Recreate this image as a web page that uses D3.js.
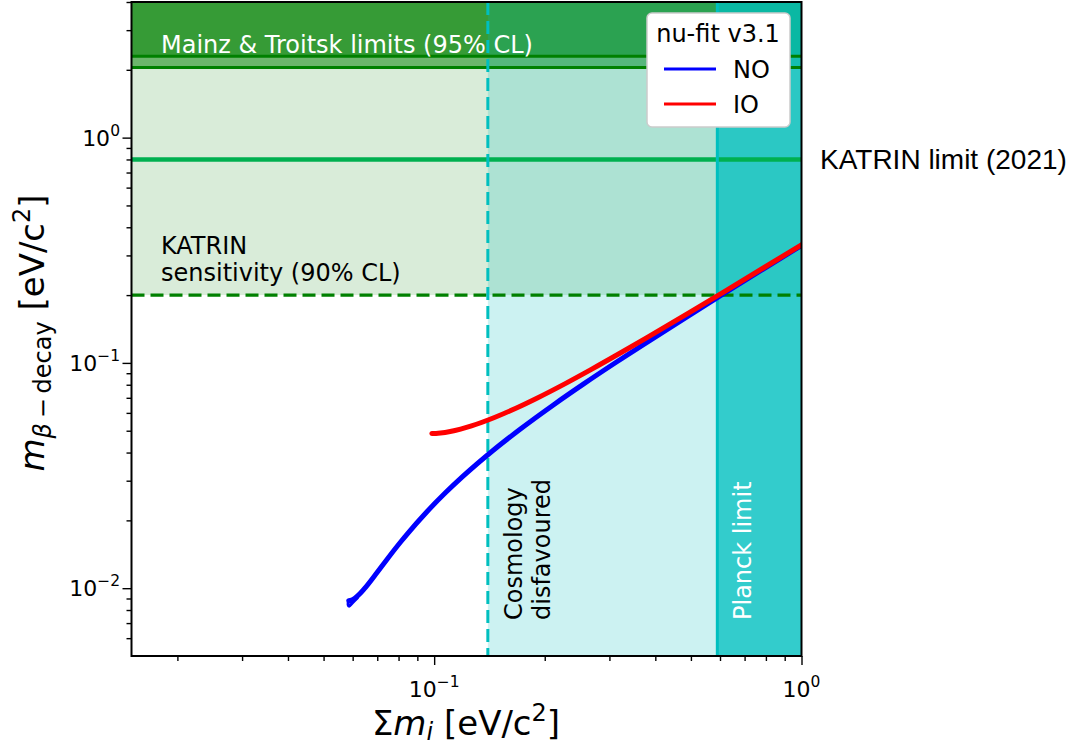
<!DOCTYPE html>
<html><head><meta charset="utf-8">
<script src="https://cdn.jsdelivr.net/npm/d3@7"></script>
<style>body{margin:0;background:#fff}</style>
</head><body>
<svg id="chart" width="1068" height="746" xmlns="http://www.w3.org/2000/svg"></svg>
<script>
// Sum of neutrino masses vs effective beta-decay mass (both eV/c^2)
const noSum   = [0.05854, 0.05961, 0.06081, 0.06285, 0.06514, 0.06941, 0.07412, 0.08124, 0.08444, 0.09557, 0.10729, 0.11947, 0.14489, 0.1714, 0.21254, 0.25477, 0.31215, 0.37029, 0.48784, 0.60632, 0.78489, 0.99387, 1.0088];
const noMbeta = [0.008794, 0.00885, 0.009018, 0.009465, 0.010116, 0.011558, 0.013317, 0.016112, 0.017388, 0.021848, 0.026502, 0.031262, 0.04096, 0.050767, 0.065592, 0.080482, 0.100386, 0.12032, 0.16024, 0.20019, 0.26015, 0.33012, 0.33512];
// lower edge of the NO band near the lightest-mass end
const noLowSum   = [0.05854, 0.05830, 0.05870, 0.05990, 0.06180];
const noLowMbeta = [0.008794, 0.00845, 0.00832, 0.00860, 0.00905];
const ioSum   = [0.09855, 0.10117, 0.10405, 0.11056, 0.11801, 0.12636, 0.14538, 0.16693, 0.1904, 0.22813, 0.26791, 0.32296, 0.37945, 0.49483, 0.61196, 0.78926, 0.99731, 1.01221];
const ioMbeta = [0.04858, 0.048641, 0.048834, 0.049595, 0.05084, 0.052533, 0.057094, 0.062926, 0.069712, 0.081147, 0.093594, 0.111174, 0.12946, 0.167212, 0.20581, 0.264499, 0.33356, 0.33851];

// Experimental and cosmological bounds
const troitskLimit = 2.05;
const mainzLimit = 2.3;
const katrinLimit = 0.8;
const katrinSensitivity = 0.2;
const cosmologyBound = 0.14;
const planckLimit = 0.59;

// Tick values
const xMajor = [0.1, 1];
const xMinor = [0.02, 0.03, 0.04, 0.05, 0.06, 0.07, 0.08, 0.09, 0.2, 0.3, 0.4, 0.5, 0.6, 0.7, 0.8, 0.9];
const xTickExp = ["−1", "0"];
const yMajor = [0.01, 0.1, 1];
const yMinor = [0.006, 0.007, 0.008, 0.009, 0.02, 0.03, 0.04, 0.05, 0.06, 0.07, 0.08, 0.09, 0.2, 0.3, 0.4, 0.5, 0.6, 0.7, 0.8, 0.9, 2, 3, 4];
const yTickExp = ["−2", "−1", "0"];

const legendTitle = "nu-fit v3.1";
const seriesNames = ["NO", "IO"];
const seriesColors = ["#0000ff", "#ff0000"];

const FONT = "DejaVu Sans, sans-serif";
const TXT = 24;
const svg = d3.select("#chart");
const L = 131.5, R = 801.5, T = 2, B = 656;
const x = d3.scaleLog().domain([0.015, 1]).range([L, R]);
const y = d3.scaleLog().domain([0.005, 4]).range([B, T]);
const [xmin, xmax] = x.domain();
const [ymin, ymax] = y.domain();

svg.append("defs").append("clipPath").attr("id", "plot")
  .append("rect").attr("x", L).attr("y", T).attr("width", R - L).attr("height", B - T);
const plot = svg.append("g").attr("clip-path", "url(#plot)");

// Shaded bands
function hspan(y0, y1, color, op) {
  plot.append("rect").attr("x", L).attr("width", R - L)
    .attr("y", y(y1)).attr("height", y(y0) - y(y1))
    .attr("fill", color).attr("fill-opacity", op);
}
function vspan(x0, x1, color, op) {
  plot.append("rect").attr("y", T).attr("height", B - T)
    .attr("x", x(x0)).attr("width", x(x1) - x(x0))
    .attr("fill", color).attr("fill-opacity", op);
}
hspan(katrinSensitivity, ymax, "#008000", 0.15);
hspan(troitskLimit, ymax, "#008000", 0.5);
hspan(mainzLimit, ymax, "#008000", 0.5);
vspan(cosmologyBound, xmax, "#00bfbf", 0.2);
vspan(planckLimit, xmax, "#00bfbf", 0.75);

// Bound lines
function hline(v, color, w, dash) {
  const l = plot.append("line").attr("x1", L).attr("x2", R).attr("y1", y(v)).attr("y2", y(v))
    .attr("stroke", color).attr("stroke-width", w);
  if (dash) l.attr("stroke-dasharray", dash);
}
function vline(v, color, w, dash) {
  const l = plot.append("line").attr("y1", T).attr("y2", B).attr("x1", x(v)).attr("x2", x(v))
    .attr("stroke", color).attr("stroke-width", w);
  if (dash) l.attr("stroke-dasharray", dash);
}
hline(troitskLimit, "#008000", 3);
hline(mainzLimit, "#008000", 3);
hline(katrinLimit, "#00b050", 4.5);
hline(katrinSensitivity, "#008000", 3.2, "13,6");
vline(planckLimit, "#00bfbf", 3);

// Labels inside the plot
plot.append("text").attr("x", 161).attr("y", 53).attr("fill", "#fff")
  .attr("font-family", FONT).attr("font-size", TXT).text("Mainz & Troitsk limits (95% CL)");
vline(cosmologyBound, "#00bfbf", 3, "13,6");
const ks = plot.append("text").attr("font-family", FONT).attr("font-size", TXT).attr("fill", "#000");
ks.append("tspan").attr("x", 161).attr("y", 254).text("KATRIN");
ks.append("tspan").attr("x", 161).attr("y", 280.5).text("sensitivity (90% CL)");

plot.append("text").attr("transform", "translate(521.5,620) rotate(-90)")
  .attr("font-family", FONT).attr("font-size", TXT).attr("fill", "#000").text("Cosmology");
plot.append("text").attr("transform", "translate(549.5,620) rotate(-90)")
  .attr("font-family", FONT).attr("font-size", TXT).attr("fill", "#000").text("disfavoured");
plot.append("text").attr("transform", "translate(751,620) rotate(-90)")
  .attr("font-family", FONT).attr("font-size", TXT).attr("fill", "#fff").text("Planck limit");

// Mass curves
const line = d3.line().x(d => x(d[0])).y(d => y(d[1])).curve(d3.curveMonotoneX);
const loop = d3.line().x(d => x(d[0])).y(d => y(d[1])).curve(d3.curveCatmullRom);
plot.append("path").attr("d", loop(d3.zip(noLowSum, noLowMbeta))).attr("fill", "none")
  .attr("stroke", seriesColors[0]).attr("stroke-width", 3)
  .attr("stroke-linecap", "round").attr("stroke-linejoin", "round");
const series = [d3.zip(noSum, noMbeta), d3.zip(ioSum, ioMbeta)];
series.forEach((pts, i) => {
  plot.append("path").attr("d", line(pts)).attr("fill", "none")
    .attr("stroke", seriesColors[i]).attr("stroke-width", 5)
    .attr("stroke-linecap", "round").attr("stroke-linejoin", "round");
});

// Axes
const axX = svg.append("g").attr("transform", `translate(0,${B})`);
axX.call(d3.axisBottom(x).tickValues(xMajor).tickSize(9).tickFormat(""));
const axXm = svg.append("g").attr("transform", `translate(0,${B})`);
axXm.call(d3.axisBottom(x).tickValues(xMinor).tickSize(5).tickFormat(""));
const axY = svg.append("g").attr("transform", `translate(${L},0)`);
axY.call(d3.axisLeft(y).tickValues(yMajor).tickSize(9).tickFormat(""));
const axYm = svg.append("g").attr("transform", `translate(${L},0)`);
axYm.call(d3.axisLeft(y).tickValues(yMinor).tickSize(5).tickFormat(""));
[axX, axXm, axY, axYm].forEach(g => {
  g.selectAll(".domain").remove();
  g.selectAll(".tick line").attr("stroke", "#000").attr("stroke-width", 1.4);
});
// frame
svg.append("rect").attr("x", L).attr("y", T).attr("width", R - L).attr("height", B - T)
  .attr("fill", "none").attr("stroke", "#000").attr("stroke-width", 2);

// tick labels with exponents
xMajor.forEach((v, i) => {
  const t = svg.append("text").attr("x", x(v)).attr("y", 697).attr("text-anchor", "middle")
    .attr("font-family", FONT).attr("font-size", 22).attr("fill", "#000");
  t.append("tspan").text("10");
  t.append("tspan").attr("font-size", 15.5).attr("dy", -10).text(xTickExp[i]);
});
yMajor.forEach((v, i) => {
  const t = svg.append("text").attr("x", 120).attr("y", y(v) + 8).attr("text-anchor", "end")
    .attr("font-family", FONT).attr("font-size", 22).attr("fill", "#000");
  t.append("tspan").text("10");
  t.append("tspan").attr("font-size", 15.5).attr("dy", -10).text(yTickExp[i]);
});

// Axis titles
const xl = svg.append("text").attr("x", 466).attr("y", 735).attr("text-anchor", "middle")
  .attr("font-family", FONT).attr("font-size", 34).attr("fill", "#000");
xl.append("tspan").text("Σ");
xl.append("tspan").attr("font-style", "italic").text("m");
xl.append("tspan").attr("font-style", "italic").attr("font-size", 24).attr("dy", 5).text("i");
xl.append("tspan").attr("dy", -5).text(" [eV/c");
xl.append("tspan").attr("font-size", 24).attr("dy", -14).text("2");
xl.append("tspan").attr("dy", 14).text("]");

const yl = svg.append("text").attr("transform", "translate(44,333) rotate(-90)").attr("text-anchor", "middle")
  .attr("font-family", FONT).attr("font-size", 34).attr("fill", "#000");
yl.append("tspan").attr("font-style", "italic").text("m");
yl.append("tspan").attr("font-size", 24).attr("dy", 7).attr("font-style", "italic").text("β");
yl.append("tspan").attr("font-size", 24).text("\u2009−\u2009decay");
yl.append("tspan").attr("dy", -7).text(" [eV/c");
yl.append("tspan").attr("font-size", 24).attr("dy", -14).text("2");
yl.append("tspan").attr("dy", 14).text("]");

// KATRIN limit annotation outside the axes
svg.append("text").attr("x", 820).attr("y", y(katrinLimit) + 10)
  .attr("font-family", "Liberation Sans, Arial, sans-serif").attr("font-size", 28).attr("fill", "#000")
  .text("KATRIN limit (2021)");

// Legend
const lg = svg.append("g");
lg.append("rect").attr("x", 647).attr("y", 13).attr("width", 143).attr("height", 114).attr("rx", 5)
  .attr("fill", "#fff").attr("stroke", "#cccccc").attr("stroke-width", 1.5);
lg.append("text").attr("x", 718).attr("y", 42).attr("text-anchor", "middle")
  .attr("font-family", FONT).attr("font-size", TXT).attr("fill", "#000").text(legendTitle);
seriesNames.forEach((n, i) => {
  const yy = 69 + i * 35;
  lg.append("line").attr("x1", 664).attr("x2", 716).attr("y1", yy).attr("y2", yy)
    .attr("stroke", seriesColors[i]).attr("stroke-width", 3);
  lg.append("text").attr("x", 733).attr("y", yy + 8.5).attr("font-family", FONT)
    .attr("font-size", TXT).attr("fill", "#000").text(n);
});
</script>
</body></html>
